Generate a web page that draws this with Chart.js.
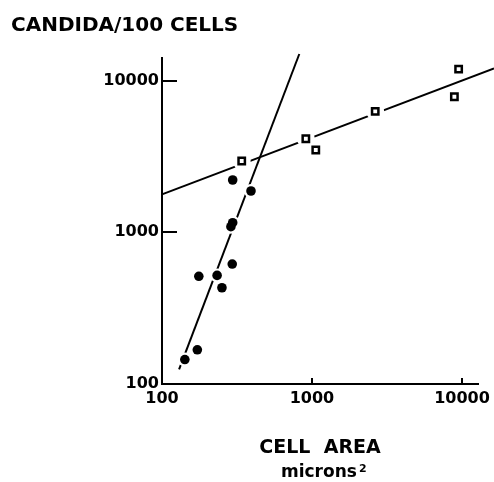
<!DOCTYPE html>
<html lang="en">
<head>
    <meta charset="UTF-8">
    <title>Candida / cell area</title>
    <style>
        html, body {
            margin: 0;
            padding: 0;
            background: #fff;
            overflow: hidden;
        }
        canvas { display: block; }
    </style>
    <script src="https://cdn.jsdelivr.net/npm/chart.js"></script>
</head>
<body>
    <canvas id="chart" width="494" height="482"></canvas>

    <script>
        // open squares
        const squareArea  = [340, 910, 1060, 2640, 8900, 9500];
        const squareCount = [2950, 4140, 3490, 6270, 7830, 11900];
        // filled dots
        const dotArea  = [142, 172, 176, 233, 251, 294, 288, 296, 296, 392];
        const dotCount = [145, 168, 513, 520, 431, 618, 1089, 1157, 2213, 1872];
        // fitted lines (end points)
        const squareFitArea  = [100, 16350];
        const squareFitCount = [1780, 12050];
        const dotFitArea  = [130, 823];
        const dotFitCount = [125, 14980];
        // ticks
        const xTicks = [100, 1000, 10000];
        const yTicks = [100, 1000, 10000];

        const FONT = 'DejaVu Sans';

        function pts(xs, ys) {
            return xs.map((x, i) => ({ x: x, y: ys[i] }));
        }

        // inward tick marks + text labels
        const extras = {
            id: 'extras',
            afterDraw(chart) {
                const ctx = chart.ctx;
                const xs = chart.scales.x, ys = chart.scales.y;
                const area = chart.chartArea;
                ctx.save();
                ctx.strokeStyle = '#000';
                ctx.lineWidth = 2;
                ctx.beginPath();
                xTicks.slice(1).forEach(v => {
                    const px = Math.round(xs.getPixelForValue(v));
                    ctx.moveTo(px, area.bottom);
                    ctx.lineTo(px, area.bottom - 6);
                });
                yTicks.slice(1).forEach(v => {
                    const py = Math.round(ys.getPixelForValue(v));
                    ctx.moveTo(area.left, py);
                    ctx.lineTo(area.left + 15, py);
                });
                ctx.stroke();

                ctx.fillStyle = '#000';
                ctx.textBaseline = 'alphabetic';
                ctx.textAlign = 'left';
                ctx.font = 'bold 20px "' + FONT + '"';
                ctx.fillText('CANDIDA/100 CELLS', 11, 31);

                ctx.textAlign = 'center';
                ctx.font = 'bold 19px "' + FONT + '"';
                ctx.fillText('CELL  AREA', 320, 453);

                ctx.textAlign = 'left';
                ctx.font = 'bold 17px "' + FONT + '"';
                ctx.fillText('microns', 281, 477);
                ctx.font = 'bold 11px "' + FONT + '"';
                ctx.fillText('2', 359, 472);
                ctx.restore();
            }
        };

        const ctx = document.getElementById('chart').getContext('2d');
        const chart = new Chart(ctx, {
            type: 'scatter',
            data: {
                datasets: [
                    {
                        label: 'squares',
                        data: pts(squareArea, squareCount),
                        pointStyle: 'rect',
                        pointRadius: 4.5,
                        backgroundColor: '#fff',
                        borderColor: '#000',
                        borderWidth: 2.5,
                    },
                    {
                        label: 'dots',
                        data: pts(dotArea, dotCount),
                        pointStyle: 'circle',
                        pointRadius: 4.8,
                        backgroundColor: '#000',
                        borderColor: '#000',
                        borderWidth: 0,
                    },
                    {
                        label: 'square gaps',
                        data: pts(squareArea, squareCount),
                        pointRadius: 9,
                        backgroundColor: '#fff',
                        borderWidth: 0,
                    },
                    {
                        label: 'dot gaps',
                        data: pts(dotArea, dotCount),
                        pointRadius: 7,
                        backgroundColor: '#fff',
                        borderWidth: 0,
                    },
                    {
                        label: 'square fit',
                        type: 'line',
                        data: pts(squareFitArea, squareFitCount),
                        borderColor: '#000',
                        borderWidth: 2,
                        pointRadius: 0,
                        fill: false,
                        clip: false,
                    },
                    {
                        label: 'dot fit',
                        type: 'line',
                        data: pts(dotFitArea, dotFitCount),
                        borderColor: '#000',
                        borderWidth: 2,
                        pointRadius: 0,
                        fill: false,
                        clip: false,
                    },
                ]
            },
            options: {
                responsive: false,
                animation: false,
                layout: { padding: { left: 0, top: 58, right: 16, bottom: 0 } },
                plugins: {
                    legend: { display: false },
                    tooltip: { enabled: false },
                },
                scales: {
                    x: {
                        type: 'logarithmic',
                        min: 100,
                        max: 12790,
                        afterBuildTicks: s => { s.ticks = xTicks.map(v => ({ value: v })); },
                        afterFit: s => { s.height = 98; s.paddingLeft = 0; s.paddingRight = 0; },
                        grid: { display: false, drawTicks: false },
                        border: { display: true, color: '#000', width: 2 },
                        ticks: {
                            color: '#000',
                            padding: 5,
                            maxRotation: 0,
                            autoSkip: false,
                            font: { family: FONT, size: 16, weight: 'bold' },
                            callback: v => String(v),
                        },
                    },
                    y: {
                        type: 'logarithmic',
                        min: 100,
                        max: 14100,
                        afterBuildTicks: s => { s.ticks = yTicks.map(v => ({ value: v })); },
                        afterFit: s => { s.width = 162; s.paddingTop = 0; s.paddingBottom = 0; },
                        grid: { display: false, drawTicks: false },
                        border: { display: true, color: '#000', width: 2 },
                        ticks: {
                            color: '#000',
                            padding: 3,
                            autoSkip: false,
                            font: { family: FONT, size: 16, weight: 'bold' },
                            callback: v => String(v),
                        },
                    },
                },
            },
            plugins: [extras],
        });
    </script>
</body>
</html>
